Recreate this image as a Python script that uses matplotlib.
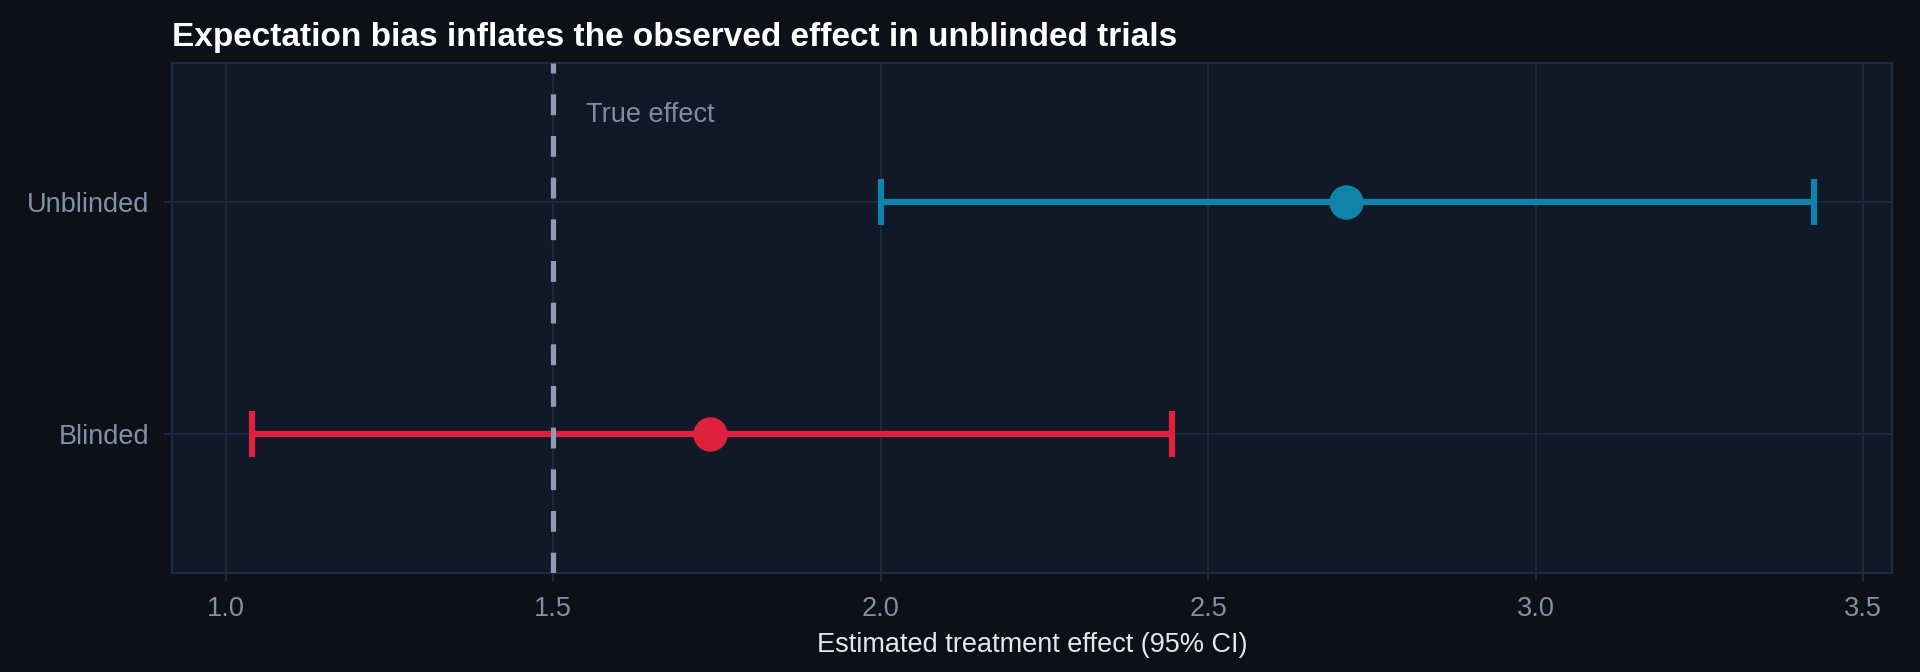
"""Forest-style plot: blinded vs unblinded treatment effect estimates."""
import matplotlib
matplotlib.use('Agg')
from matplotlib import pyplot as plt

# Data
groups = ['Blinded', 'Unblinded']
estimates = [1.74, 2.71]
ci_low = [1.04, 2.00]
ci_high = [2.445, 3.425]
colors = ['#e0213d', '#1283a8']
true_effect = 1.5

plt.rcParams['font.family'] = ['Liberation Sans', 'DejaVu Sans']

fig = plt.figure(figsize=(12.8, 4.48), dpi=150, facecolor='#0d1117')
ax = fig.add_axes([0.0896, 0.1473, 0.8958, 0.7589])
ax.set_facecolor('#111827')

ypos = list(range(len(groups)))
for y, est, lo, hi, col in zip(ypos, estimates, ci_low, ci_high, colors):
    ax.errorbar(est, y, xerr=[[est - lo], [hi - est]], fmt='o', color=col,
                ecolor=col, elinewidth=3, capsize=11, capthick=3,
                markersize=15.5, zorder=3)

ax.axvline(true_effect, color='#8e9bb3', linewidth=2.5,
           linestyle=(0, (4, 4)), zorder=4)
ax.text(true_effect + 0.05, 1.375, 'True effect', color='#7f8ca5',
        fontsize=13, va='center', ha='left')

ax.set_yticks(ypos)
ax.set_yticklabels(groups)
ax.set_ylim(-0.6, 1.6)
ax.set_xlim(0.918, 3.544)
ax.set_xticks([1.0, 1.5, 2.0, 2.5, 3.0, 3.5])

ax.grid(True, color='#1c2740', linewidth=1.0, zorder=0)
ax.set_axisbelow(True)
for spine in ax.spines.values():
    spine.set_color('#1e2a42')
    spine.set_linewidth(1.0)
ax.tick_params(colors='#1e2a42', labelcolor='#8290a8', labelsize=13,
               length=4, width=1, pad=7)

ax.set_xlabel('Estimated treatment effect (95% CI)', color='#e2e8f0',
              fontsize=13, labelpad=5)
ax.set_title('Expectation bias inflates the observed effect in unblinded trials',
             loc='left', color='white', fontsize=16, fontweight='bold', pad=8)

fig.savefig('out.png', dpi=150, facecolor=fig.get_facecolor())
